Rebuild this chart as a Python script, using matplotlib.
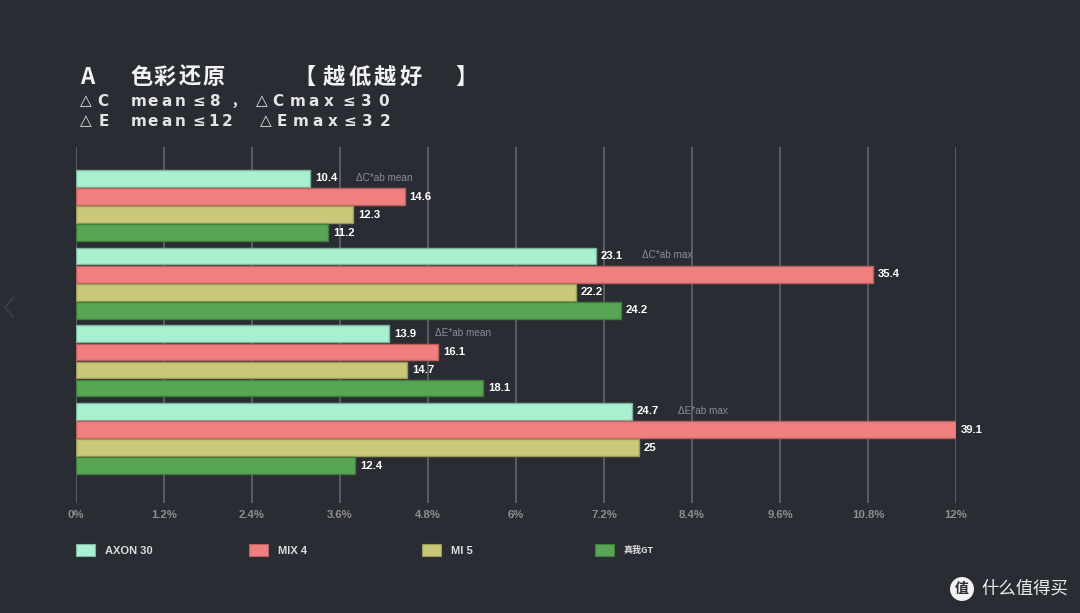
import matplotlib
matplotlib.use("Agg")
import matplotlib.pyplot as plt
import numpy as np
from matplotlib.patches import Rectangle, Circle
from matplotlib.lines import Line2D

# ---------------- data ----------------
metrics = ["ΔC*ab mean", "ΔC*ab max", "ΔE*ab mean", "ΔE*ab max"]
phones = ["AXON 30", "MIX 4", "MI 5", "真我GT"]
axon30 = [10.4, 23.1, 13.9, 24.7]
mix4 = [14.6, 35.4, 16.1, 39.1]
mi5 = [12.3, 22.2, 14.7, 25]
realme_gt = [11.2, 24.2, 18.1, 12.4]
tick_labels = ["0%", "1.2%", "2.4%", "3.6%", "4.8%", "6%", "7.2%", "8.4%",
               "9.6%", "10.8%", "12%"]
full_scale = 39.1  # value shown at the 12% mark

# ---------------- style ----------------
BG = "#2a2c34"
colors = ["#a9f0d1", "#f08080", "#c9c878", "#58a654"]
edges = ["#7fb59e", "#b96060", "#9a9a5a", "#3f7d3c"]
W, H = 1080, 613

fig = plt.figure(figsize=(W / 100, H / 100), dpi=100, facecolor=BG)
ax = fig.add_axes([76 / W, 110 / H, 880 / W, 356 / H], facecolor=BG)

series = [axon30, mix4, mi5, realme_gt]
group_pitch = 4.29
bar_h = 0.92
for s, vals in enumerate(series):
    ys = [g * group_pitch + s for g in range(len(metrics))]
    ax.barh(ys, vals, height=bar_h, color=colors[s], edgecolor=edges[s],
            linewidth=1.0, zorder=3)
    for y, v in zip(ys, vals):
        ax.annotate(f"{v:g}", xy=(v, y), xytext=(3.6, 0),
                    textcoords="offset points", ha="left", va="center",
                    color="white", fontsize=8.2, fontweight="bold",
                    family="Liberation Sans", annotation_clip=False, zorder=5)

for g, m in enumerate(metrics):
    y = g * group_pitch
    ax.annotate(m, xy=(axon30[g], y), xytext=(33.1, 0.5),
                textcoords="offset points", ha="left", va="center",
                color="#8a8d93", fontsize=7.2, family="Liberation Sans",
                annotation_clip=False, zorder=5)

ax.set_xlim(0, full_scale)
ax.set_ylim(-1.74 + 19.67, -1.74)
ax.set_xticks(np.linspace(0, full_scale, len(tick_labels)))
ax.set_xticklabels(tick_labels)
ax.set_yticks([])
ax.tick_params(axis="x", length=0, pad=5, labelcolor="#8e8e8e", labelsize=8.2)
for lbl in ax.get_xticklabels():
    lbl.set_fontweight("bold")
    lbl.set_family("Liberation Sans")
ax.xaxis.grid(True, color="#5a5d63", linewidth=1.4, zorder=0)
ax.set_axisbelow(True)
for sp in ax.spines.values():
    sp.set_visible(False)


def fx(x):
    return x / W


def fy(y):
    return 1 - y / H


# ---------------- legend ----------------
for i, name in enumerate(phones):
    x0 = 76 + i * 173
    fig.patches.append(Rectangle((fx(x0), fy(556)), 19 / W, 12 / H,
                                 transform=fig.transFigure,
                                 facecolor=colors[i], edgecolor=edges[i],
                                 linewidth=0.8))
    if name.isascii():
        fig.text(fx(x0 + 29), fy(550.5), name, ha="left", va="center",
                 color="#dcdcdc", fontsize=8, fontweight="bold",
                 family="Liberation Sans")
    else:
        fig.text(fx(x0 + 29), fy(550.5), name, ha="left", va="center",
                 color="#dcdcdc", fontsize=6.5, fontweight="bold",
                 family=["Noto Sans CJK SC", "DejaVu Sans"])

# ---------------- title ----------------
def draw_chars(chars, xs, y, size, weight="bold", color="#eeeeee",
               family=("Noto Sans CJK SC", "DejaVu Sans")):
    for c, x in zip(chars, xs):
        fig.text(fx(x), fy(y), c, ha="center", va="center", color=color,
                 fontsize=size, fontweight=weight, family=list(family))


title_chars = ["A", "色", "彩", "还", "原", "【", "越", "低", "越", "好", "】"]
title_xs = [87.5, 142, 165, 190, 214, 305, 334, 360, 385, 411, 467]
draw_chars(title_chars, title_xs, 77, 16, weight="heavy", color="#f2f2f2")

line2 = ["△", "C", "m", "e", "a", "n", "≤", "8", "，", "△", "C", "m", "a", "x", "≤", "3", "0"]
line2_xs = [85.5, 102.5, 138.5, 153, 167, 180, 199, 214, 238, 261.5, 277.5,
            297.5, 314, 329, 348.5, 366, 383.5]
draw_chars(line2, line2_xs, 101, 11, color="#e4e4e4",
           family=("DejaVu Sans", "Noto Sans CJK SC"))

line3 = ["△", "E", "m", "e", "a", "n", "≤", "1", "2", "△", "E", "m", "a", "x", "≤", "3", "2"]
line3_xs = [85.5, 103.5, 138.5, 153, 167, 180, 199, 213.5, 227.5, 265.5,
            281.5, 300.5, 317.5, 332.5, 350, 367.5, 385]
draw_chars(line3, line3_xs, 121, 11, color="#e4e4e4",
           family=("DejaVu Sans", "Noto Sans CJK SC"))

# ---------------- decorations ----------------
fig.lines.append(Line2D([fx(13), fx(5), fx(13)], [fy(298), fy(307), fy(317)],
                        transform=fig.transFigure, color="#3a3d45",
                        linewidth=1.5))

fig.patches.append(Circle((962 / 100, (H - 589) / 100), 0.12,
                          transform=fig.dpi_scale_trans, facecolor="#f2f2f2",
                          edgecolor="none"))
fig.text(fx(962), fy(589), "值", ha="center", va="center", color=BG,
         fontsize=10, fontweight="bold", family=["Noto Sans CJK SC"])
fig.text(fx(981), fy(589), "什么值得买", ha="left", va="center",
         color="#ececec", fontsize=12.5, family=["Noto Sans CJK SC"])

fig.savefig("out.png", dpi=100, facecolor=BG)
